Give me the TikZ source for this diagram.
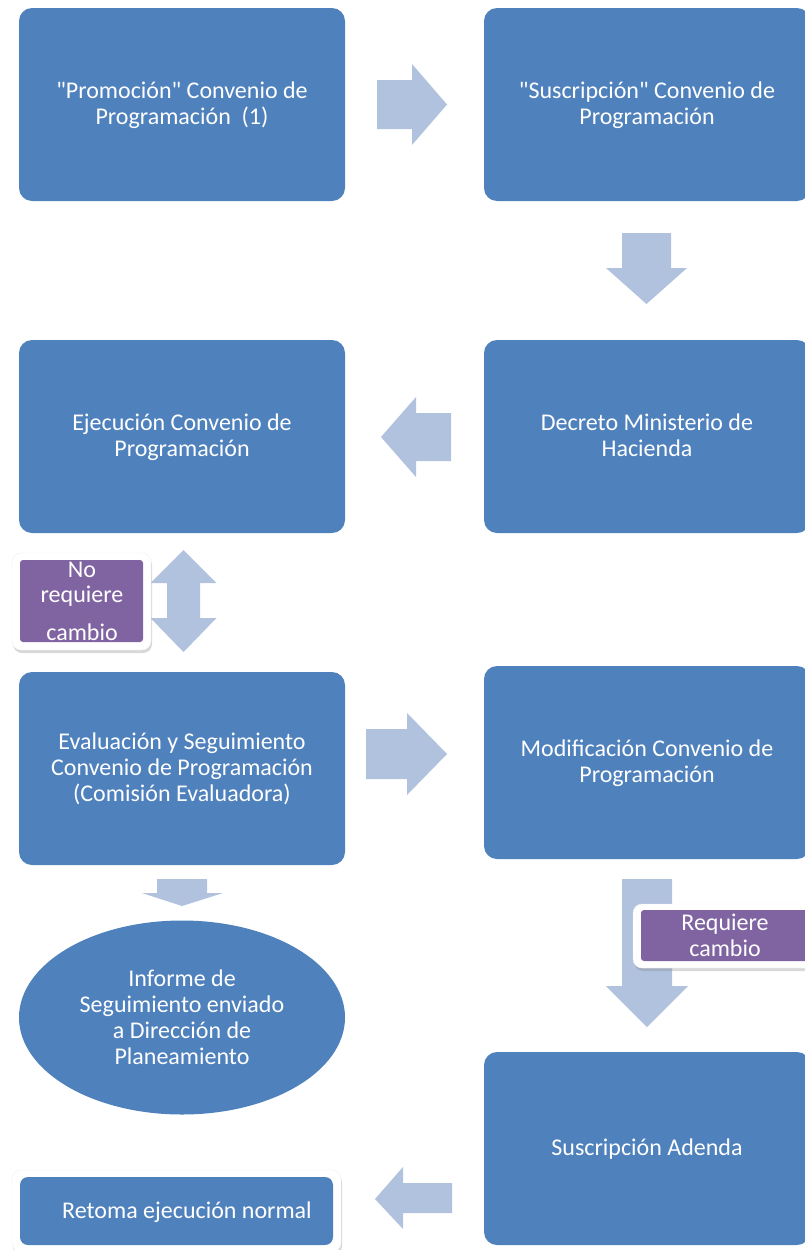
\documentclass[tikz,border=0pt]{standalone}
\usepackage{fontspec}
\setmainfont{Carlito}[Ligatures=TeXOff]
\usetikzlibrary{shadows,shapes.geometric}
\definecolor{boxblue}{HTML}{4F81BD}
\definecolor{lblpurple}{HTML}{8064A2}
\definecolor{arrowblue}{HTML}{B1C2DE}
\begin{document}
\begin{tikzpicture}[x=1pt,y=-1pt,
  txt/.style={text=white, font=\fontsize{24}{26}\selectfont},
  box/.style={draw=none, fill=boxblue, rounded corners=13pt, txt, align=center, inner sep=0pt,
    text depth=2pt},
  bigbox/.style={box, minimum width=326pt, minimum height=193pt},
  plainbox/.style={rectangle, draw=black!6, fill=white, rounded corners=9pt,
    drop shadow={opacity=0.3, shadow xshift=1pt, shadow yshift=-3pt}},
  lblbox/.style={rectangle, fill=lblpurple, rounded corners=3pt, txt, align=center, inner sep=0pt},
  blockarrow/.style={fill=arrowblue, draw=none}]
\useasboundingbox (0,0) rectangle (805,1250);
\fill[white] (0,0) rectangle (805,1250);

% main boxes
\node[bigbox] (prom) at (182,104.5) {"Promoción" Convenio de\\Programación\ \ (1)};
\node[bigbox] (susc) at (647,104.5) {"Suscripción" Convenio de\\Programación};
\node[bigbox] (ejec) at (182,436.5) {Ejecución Convenio de\\Programación};
\node[bigbox] (decr) at (647,436.5) {Decreto Ministerio de\\Hacienda};
\node[bigbox] (eval) at (182,768.5) {Evaluación y Seguimiento\\Convenio de Programación\\(Comisión Evaluadora)};
\node[bigbox] (modi) at (647,762.5) {Modificación Convenio de\\Programación};
\node[ellipse, fill=boxblue, txt, align=center, minimum width=326pt, minimum height=194pt,
  inner sep=0pt] (info) at (182,1017.5)
  {Informe de\\Seguimiento enviado\\a Dirección de\\Planeamiento};
\node[bigbox] (aden) at (647,1148.5) {Suscripción Adenda};

% block arrows
\fill[blockarrow] (377,80) -- (412,80) -- (412,64) -- (447,104.5) -- (412,145) -- (412,129) -- (377,129) -- cycle;
\fill[blockarrow] (622,233) -- (671,233) -- (671,268) -- (687,268) -- (646.5,304) -- (606,268) -- (622,268) -- cycle;
\fill[blockarrow] (451,413) -- (416,413) -- (416,397) -- (381,437) -- (416,477) -- (416,461) -- (451,461) -- cycle;
\fill[blockarrow] (183.5,550) -- (216.5,583) -- (200,583) -- (200,618) -- (216.5,618) -- (183.5,652)
  -- (150.5,618) -- (167,618) -- (167,583) -- (150.5,583) -- cycle;
\fill[blockarrow] (366,729) -- (407,729) -- (407,713) -- (447,754) -- (407,795) -- (407,779) -- (366,779) -- cycle;
\fill[blockarrow] (157,879) -- (207,879) -- (207,893) -- (223,893) -- (182,906) -- (142,893) -- (157,893) -- cycle;
\fill[blockarrow] (622,879) -- (672,879) -- (672,986) -- (688,986) -- (647,1027) -- (606,986) -- (622,986) -- cycle;
\fill[blockarrow] (452,1183) -- (403,1183) -- (403,1167) -- (375,1199) -- (403,1229) -- (403,1213) -- (452,1213) -- cycle;

% label boxes
\node[plainbox, minimum width=139pt, minimum height=97pt] (noreqbg) at (81.5,601.5) {};
\node[lblbox, minimum width=123pt, minimum height=82pt] (noreq) at (81.5,601) {};
\node[txt] (noreqA) at (82,570) {No};
\node[txt] (noreqB) at (82,596) {requiere};
\node[txt] (noreqC) at (82,632) {cambio};

\node[plainbox, minimum width=184pt, minimum height=64pt] (reqbg) at (725,936) {};
\node[lblbox, minimum width=168pt, minimum height=51pt] (req) at (725,935.5) {Requiere\\cambio};

\node[plainbox, minimum width=329pt, minimum height=82pt] (retbg) at (176.5,1211) {};
\node[box, rounded corners=8pt, minimum width=313pt, minimum height=68pt] (ret) at (176.5,1211) {};
\node[txt] (rettxt) at (187,1212.5) {Retoma ejecución normal};
\end{tikzpicture}
\end{document}
